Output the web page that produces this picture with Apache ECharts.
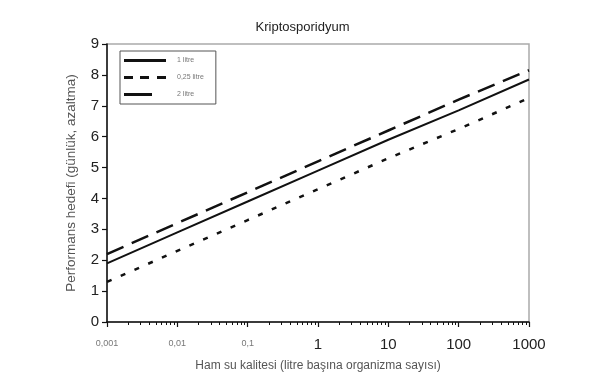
<!DOCTYPE html>
<html>
<head>
<meta charset="utf-8">
<script src="https://cdn.jsdelivr.net/npm/echarts@6/dist/echarts.min.js"></script>
<style>html,body{margin:0;padding:0;background:#fff}#c{width:605px;height:391px}</style>
</head>
<body>
<div id="c"></div>
<script>
// ---- data ----
const xValues = [0.001, 0.01, 0.1, 1, 10, 100, 1000];
const xTickLabels = ['0,001', '0,01', '0,1', '1', '10', '100', '1000'];
const seriesNames = ['1 litre', '0,25 litre', '2 litre'];
const litre1 = [1.9, 2.9, 3.9, 4.9, 5.9, 6.85, 7.85];
const litre025 = [1.3, 2.3, 3.3, 4.3, 5.3, 6.25, 7.25];
const litre2 = [2.2, 3.2, 4.2, 5.2, 6.2, 7.2, 8.15];
const yTicks = [0, 1, 2, 3, 4, 5, 6, 7, 8, 9];

const minorTicks = [];
for (let d = -3; d < 3; d++) {
  for (let m = 2; m <= 9; m++) minorTicks.push(m * Math.pow(10, d));
}
const pairs = arr => xValues.map((x, i) => [x, arr[i]]);
const FONT = '"Liberation Sans", Arial, sans-serif';
const legendIcons = [
  'path://M0,0H42V3H0Z',
  'path://M0,0H9V3H0Z M16,0H25V3H16Z M33,0H42V3H33Z',
  'path://M0,0H28V3H0Z M41.8,1.4H42V1.6H41.8Z'
];

const chart = echarts.init(document.getElementById('c'), null, {renderer: 'canvas'});
chart.setOption({
  animation: false,
  backgroundColor: '#fff',
  textStyle: {fontFamily: FONT},
  title: {
    text: 'Kriptosporidyum', left: 'center', top: 16,
    textStyle: {fontSize: 13, fontWeight: 'normal', color: '#222', fontFamily: FONT}
  },
  grid: {left: 107, right: 76, top: 44, bottom: 69, show: true, borderColor: '#aaa', borderWidth: 1.5, backgroundColor: 'transparent'},
  legend: {
    orient: 'vertical', left: 120, top: 51,
    data: seriesNames.map((n, i) => ({name: n, icon: legendIcons[i]})),
    itemWidth: 42, itemHeight: 3, itemGap: 10,
    padding: [6, 12, 6, 4],
    borderColor: '#555', borderWidth: 1,
    itemStyle: {color: '#111', borderWidth: 0},
    textStyle: {fontSize: 7, color: '#777', fontFamily: FONT, padding: [0, 0, 0, 6]}
  },
  xAxis: [{
    type: 'log', logBase: 10, min: 0.001, max: 1000,
    name: 'Ham su kalitesi (litre başına organizma sayısı)',
    nameLocation: 'middle', nameGap: 38,
    nameTextStyle: {fontSize: 12, color: '#555', fontFamily: FONT},
    axisLine: {show: true, lineStyle: {color: '#111', width: 1.5}},
    axisTick: {show: true, customValues: xValues, length: 5, lineStyle: {color: '#111', width: 1.2}},
    axisLabel: {
      customValues: xValues, margin: 15,
      formatter: function (v) {
        const i = Math.round(Math.log10(v)) + 3;
        const t = xTickLabels[i];
        return v < 1 ? '{s|' + t + '}' : '{b|' + t + '}';
      },
      rich: {
        s: {fontSize: 9, color: '#777', fontFamily: FONT, padding: [2, 0, 0, 0]},
        b: {fontSize: 15, color: '#222', fontFamily: FONT}
      }
    },
    splitLine: {show: false}
  }, {
    type: 'log', logBase: 10, min: 0.001, max: 1000, position: 'bottom',
    axisLine: {show: false},
    axisTick: {show: true, customValues: minorTicks, length: 3, lineStyle: {color: '#111', width: 1}},
    axisLabel: {show: false},
    splitLine: {show: false}
  }],
  yAxis: {
    type: 'value', min: 0, max: 9, interval: 1,
    name: 'Performans hedefi (günlük, azaltma)',
    nameLocation: 'middle', nameGap: 29,
    nameTextStyle: {fontSize: 13.5, color: '#555', fontFamily: FONT},
    axisLine: {show: true, lineStyle: {color: '#111', width: 1.5}},
    axisTick: {show: true, length: 5, lineStyle: {color: '#111', width: 1.2}},
    axisLabel: {fontSize: 15, color: '#222', margin: 8, fontFamily: FONT,
      formatter: v => String(yTicks[v] !== undefined ? yTicks[v] : v)},
    splitLine: {show: false}
  },
  series: [
    {name: seriesNames[0], type: 'line', data: pairs(litre1), showSymbol: false, symbol: 'none',
      lineStyle: {color: '#111', width: 2, type: 'solid'}, itemStyle: {color: '#111'}},
    {name: seriesNames[1], type: 'line', data: pairs(litre025), showSymbol: false, symbol: 'none',
      lineStyle: {color: '#111', width: 2.5, type: [5, 10]}, itemStyle: {color: '#111'}},
    {name: seriesNames[2], type: 'line', data: pairs(litre2), showSymbol: false, symbol: 'none',
      lineStyle: {color: '#111', width: 2.5, type: [18, 9]}, itemStyle: {color: '#111'}}
  ]
});
</script>
</body>
</html>
